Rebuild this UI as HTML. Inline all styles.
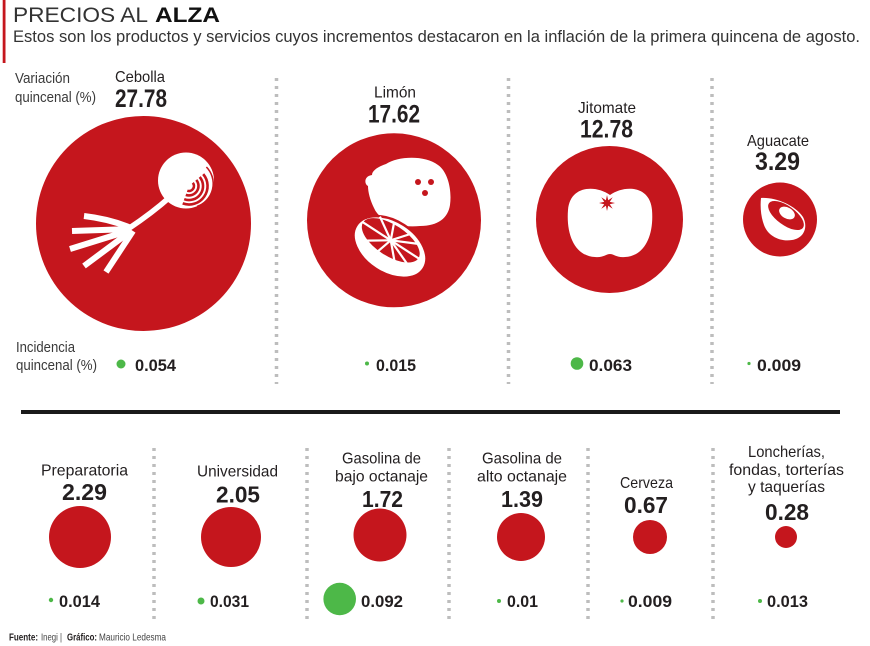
<!DOCTYPE html>
<html>
<head>
<meta charset="utf-8">
<style>
html,body{margin:0;padding:0;background:#fff;}
svg{display:block;}
text{font-family:"Liberation Sans",sans-serif;}
.lbl{font-size:16px;fill:#231f20;}
.num{font-size:25px;font-weight:bold;fill:#231f20;}
.num2{font-size:23px;font-weight:bold;fill:#231f20;}
.inc{font-size:17px;font-weight:bold;fill:#231f20;}
.side{font-size:15px;fill:#3a3a3a;}
</style>
</head>
<body>
<svg width="870" height="646" viewBox="0 0 870 646" xmlns="http://www.w3.org/2000/svg">
<rect width="870" height="646" fill="#fff"/>
<!-- header -->
<rect x="2.7" y="0" width="2.8" height="63" fill="#c5161d"/>
<text x="13" y="22" font-size="21" fill="#333" textLength="135" lengthAdjust="spacingAndGlyphs">PRECIOS AL</text>
<text x="155" y="22" font-size="21" font-weight="bold" fill="#111" textLength="65" lengthAdjust="spacingAndGlyphs">ALZA</text>
<text x="13" y="42" font-size="17" fill="#333" textLength="847" lengthAdjust="spacingAndGlyphs">Estos son los productos y servicios cuyos incrementos destacaron en la inflación de la primera quincena de agosto.</text>

<!-- side labels -->
<text class="side" x="15" y="83" textLength="55" lengthAdjust="spacingAndGlyphs">Variación</text>
<text class="side" x="15" y="102" textLength="81" lengthAdjust="spacingAndGlyphs">quincenal (%)</text>
<text class="side" x="16" y="352" textLength="59" lengthAdjust="spacingAndGlyphs">Incidencia</text>
<text class="side" x="16" y="370" textLength="81" lengthAdjust="spacingAndGlyphs">quincenal (%)</text>

<!-- separators -->
<g stroke="#bdbdbd" stroke-width="3.5" stroke-dasharray="3 5">
<line x1="276.5" y1="78" x2="276.5" y2="384"/>
<line x1="508.5" y1="78" x2="508.5" y2="384"/>
<line x1="712" y1="78" x2="712" y2="384"/>
<line x1="154" y1="448" x2="154" y2="621"/>
<line x1="307" y1="448" x2="307" y2="621"/>
<line x1="449" y1="448" x2="449" y2="621"/>
<line x1="588" y1="448" x2="588" y2="621"/>
<line x1="713" y1="448" x2="713" y2="621"/>
</g>

<!-- horizontal rule -->
<rect x="21" y="410" width="819" height="4" fill="#1a1a1a"/>

<!-- Cebolla -->
<text class="lbl" x="115" y="82" textLength="50" lengthAdjust="spacingAndGlyphs">Cebolla</text>
<text class="num" x="115" y="107" textLength="52" lengthAdjust="spacingAndGlyphs">27.78</text>
<circle cx="143.5" cy="223.5" r="107.5" fill="#c5161d"/>
<g fill="none" stroke="#fff" stroke-width="6">
<path d="M170,197 Q152,213 128,229" stroke-width="5.5"/>
<path d="M131,228 Q110,219 84,216"/>
<path d="M131,229 L72,231"/>
<path d="M131,230 L70,249"/>
<path d="M131,231 L84,266"/>
<path d="M133,231 L106,272"/>
</g>
<circle cx="186" cy="180.5" r="28" fill="#fff"/>
<g fill="none" stroke="#c5161d" stroke-width="2.6">
<path d="M192.8,182.8 A5,5 0 0 1 187.3,190.7"/>
<path d="M196.3,179.9 A9.5,9.5 0 0 1 185.8,194.9"/>
<path d="M199.7,177 A14,14 0 0 1 184.2,199.2"/>
<path d="M203.2,174.1 A18.5,18.5 0 0 1 182.7,203.4"/>
<path d="M206.4,167 A24,24 0 0 1 197,206.5" stroke-width="1.6"/>
</g>
<circle cx="121" cy="364" r="4.5" fill="#4db848"/>
<text class="inc" x="135" y="371" textLength="41" lengthAdjust="spacingAndGlyphs">0.054</text>

<!-- Limon -->
<text class="lbl" x="374" y="97.5" textLength="42" lengthAdjust="spacingAndGlyphs">Limón</text>
<text class="num" x="368" y="122.5" textLength="52" lengthAdjust="spacingAndGlyphs">17.62</text>
<circle cx="394" cy="220.3" r="87" fill="#c5161d"/>
<path d="M372,175 C372,170 380,166 386,164 C398,156 425,155 438,165 C448,172 452,190 450,205 C448,218 438,226 420,226 C400,228 380,222 374,208 C370,200 368,192 368,186 C364,184 364,176 372,175 Z" fill="#fff"/>
<circle cx="418" cy="182" r="3" fill="#c5161d"/>
<circle cx="431" cy="182" r="3" fill="#c5161d"/>
<circle cx="425" cy="193" r="3" fill="#c5161d"/>
<g transform="translate(390,247) rotate(33)">
<ellipse cx="0" cy="0" rx="40" ry="26" fill="#fff" stroke="#c5161d" stroke-width="2.5"/>
<ellipse cx="-3" cy="-6" rx="33" ry="15.5" fill="#c5161d"/>
<g stroke="#fff" stroke-width="2.2">
<line x1="-3" y1="-6" x2="-37" y2="-6"/>
<line x1="-3" y1="-6" x2="31" y2="-6"/>
<line x1="-3" y1="-6" x2="-25" y2="-20"/>
<line x1="-3" y1="-6" x2="-10" y2="-23"/>
<line x1="-3" y1="-6" x2="10" y2="-22"/>
<line x1="-3" y1="-6" x2="22" y2="-18"/>
<line x1="-3" y1="-6" x2="-24" y2="8"/>
<line x1="-3" y1="-6" x2="-8" y2="11"/>
<line x1="-3" y1="-6" x2="12" y2="10"/>
<line x1="-3" y1="-6" x2="24" y2="5"/>
</g>
</g>
<circle cx="367" cy="363.5" r="2" fill="#4db848"/>
<text class="inc" x="376" y="371" textLength="40" lengthAdjust="spacingAndGlyphs">0.015</text>

<!-- Jitomate -->
<text class="lbl" x="578" y="113" textLength="58" lengthAdjust="spacingAndGlyphs">Jitomate</text>
<text class="num" x="580" y="137.5" textLength="53" lengthAdjust="spacingAndGlyphs">12.78</text>
<circle cx="609.5" cy="219.5" r="73.5" fill="#c5161d"/>
<path d="M610,195 C596,185 570,185 568,210 C566,235 575,256 595,257 C603,258 606,254 610,254 C614,254 617,258 625,257 C645,256 654,235 652,210 C650,185 624,185 610,195 Z" fill="#fff"/>
<polygon points="615,203 609.8,204.2 612.7,208.7 608.2,205.8 607,211 605.9,205.8 601.3,208.7 604.2,204.2 599,203 604.2,201.9 601.3,197.3 605.9,200.2 607,195 608.2,200.2 612.7,197.3 609.8,201.9" fill="#c5161d"/>
<circle cx="577" cy="363.5" r="6.3" fill="#4db848"/>
<text class="inc" x="589" y="371" textLength="43" lengthAdjust="spacingAndGlyphs">0.063</text>

<!-- Aguacate -->
<text class="lbl" x="747" y="146" textLength="62" lengthAdjust="spacingAndGlyphs">Aguacate</text>
<text class="num" x="755" y="170" textLength="45" lengthAdjust="spacingAndGlyphs">3.29</text>
<circle cx="780" cy="219.5" r="37" fill="#c5161d"/>
<path d="M761,198 C775,197 795,205 803,217 C808,226 805,238 792,240 C780,242 768,236 764,225 C761,217 760,207 761,198 Z" fill="#fff"/>
<ellipse cx="786" cy="215.5" rx="21" ry="9.5" transform="rotate(36 786 215.5)" fill="#c5161d"/>
<ellipse cx="787" cy="213" rx="8.5" ry="5.5" transform="rotate(30 787 213)" fill="#fff"/>
<circle cx="749" cy="363.5" r="1.6" fill="#4db848"/>
<text class="inc" x="757" y="371" textLength="44" lengthAdjust="spacingAndGlyphs">0.009</text>

<!-- Bottom row -->
<text class="lbl" x="41" y="475.5" textLength="87" lengthAdjust="spacingAndGlyphs">Preparatoria</text>
<text class="num2" x="62" y="500" textLength="45" lengthAdjust="spacingAndGlyphs">2.29</text>
<circle cx="80" cy="537" r="31" fill="#c5161d"/>
<circle cx="51" cy="600" r="2.2" fill="#4db848"/>
<text class="inc" x="59" y="607" textLength="41" lengthAdjust="spacingAndGlyphs">0.014</text>

<text class="lbl" x="197" y="476.5" textLength="81" lengthAdjust="spacingAndGlyphs">Universidad</text>
<text class="num2" x="216" y="502.5" textLength="44" lengthAdjust="spacingAndGlyphs">2.05</text>
<circle cx="231" cy="537" r="30" fill="#c5161d"/>
<circle cx="201" cy="601" r="3.5" fill="#4db848"/>
<text class="inc" x="210" y="607" textLength="39" lengthAdjust="spacingAndGlyphs">0.031</text>

<text class="lbl" x="342" y="463.5" textLength="79" lengthAdjust="spacingAndGlyphs">Gasolina de</text>
<text class="lbl" x="335" y="481.5" textLength="93" lengthAdjust="spacingAndGlyphs">bajo octanaje</text>
<text class="num2" x="362" y="507" textLength="41" lengthAdjust="spacingAndGlyphs">1.72</text>
<circle cx="380" cy="535" r="26.5" fill="#c5161d"/>
<circle cx="339.7" cy="599" r="16.3" fill="#4db848"/>
<text class="inc" x="361" y="607" textLength="42" lengthAdjust="spacingAndGlyphs">0.092</text>

<text class="lbl" x="482" y="463.5" textLength="80" lengthAdjust="spacingAndGlyphs">Gasolina de</text>
<text class="lbl" x="477" y="481.5" textLength="90" lengthAdjust="spacingAndGlyphs">alto octanaje</text>
<text class="num2" x="501" y="507" textLength="42" lengthAdjust="spacingAndGlyphs">1.39</text>
<circle cx="521" cy="537" r="24" fill="#c5161d"/>
<circle cx="499" cy="601" r="2" fill="#4db848"/>
<text class="inc" x="507" y="607" textLength="31" lengthAdjust="spacingAndGlyphs">0.01</text>

<text class="lbl" x="620" y="488" textLength="53" lengthAdjust="spacingAndGlyphs">Cerveza</text>
<text class="num2" x="624" y="513" textLength="44" lengthAdjust="spacingAndGlyphs">0.67</text>
<circle cx="650" cy="537" r="17" fill="#c5161d"/>
<circle cx="622" cy="601" r="1.6" fill="#4db848"/>
<text class="inc" x="628" y="607" textLength="44" lengthAdjust="spacingAndGlyphs">0.009</text>

<text class="lbl" x="748" y="457" textLength="77" lengthAdjust="spacingAndGlyphs">Loncherías,</text>
<text class="lbl" x="729" y="475" textLength="115" lengthAdjust="spacingAndGlyphs">fondas, torterías</text>
<text class="lbl" x="748" y="492" textLength="77" lengthAdjust="spacingAndGlyphs">y taquerías</text>
<text class="num2" x="765" y="520" textLength="44" lengthAdjust="spacingAndGlyphs">0.28</text>
<circle cx="786" cy="537" r="11" fill="#c5161d"/>
<circle cx="760" cy="601" r="2" fill="#4db848"/>
<text class="inc" x="767" y="607" textLength="41" lengthAdjust="spacingAndGlyphs">0.013</text>

<!-- source -->
<text x="9" y="640.5" font-size="10" font-weight="bold" fill="#231f20" textLength="29" lengthAdjust="spacingAndGlyphs">Fuente:</text>
<text x="41" y="640.5" font-size="10" fill="#444" textLength="21" lengthAdjust="spacingAndGlyphs">Inegi |</text>
<text x="67" y="640.5" font-size="10" font-weight="bold" fill="#231f20" textLength="30" lengthAdjust="spacingAndGlyphs">Gráfico:</text>
<text x="99" y="640.5" font-size="10" fill="#444" textLength="67" lengthAdjust="spacingAndGlyphs">Mauricio Ledesma</text>
</svg>
</body>
</html>
